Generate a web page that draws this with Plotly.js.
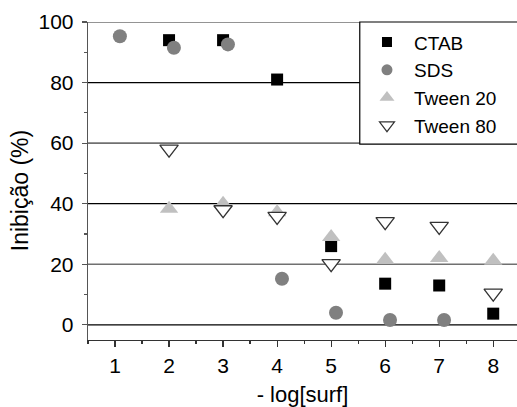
<!DOCTYPE html>
<html>
<head>
<meta charset="utf-8">
<script src="https://cdn.plot.ly/plotly-3.0.1.min.js"></script>
<style>html,body{margin:0;padding:0;background:#fff;}#chart{width:517px;height:407px;}</style>
</head>
<body>
<div id="chart"></div>
<script>
// Data
const ctabX = [2, 3, 4, 5, 6, 7, 8];
const ctabY = [94, 94, 81, 26, 13.6, 13, 3.7];

const sdsX = [1.09, 2.09, 3.09, 4.09, 5.09, 6.09, 7.09];
const sdsY = [95.3, 91.5, 92.6, 15.2, 4, 1.6, 1.6];

const tw20X = [2, 3, 4, 5, 6, 7, 8];
const tw20Y = [38.3, 40, 37.2, 29, 21.5, 22.1, 21.2];

const tw80X = [2, 3, 4, 5, 6, 7, 8];
const tw80Y = [58, 38, 35.8, 20.2, 34.1, 32.5, 10.5];

const seriesNames = ['CTAB', 'SDS', 'Tween 20', 'Tween 80'];
const xTickVals = [1, 2, 3, 4, 5, 6, 7, 8];
const yTickVals = [0, 20, 40, 60, 80, 100];
const blackGrid = [0, 40, 80];
const greyGrid = [20, 60, 100];
const xTitle = '- log[surf]';
const yTitle = 'Inibição (%)';

const FONT = 'Arial, "Liberation Sans", sans-serif';

const styles = [
  {symbol: 'square', size: 12, color: '#000000'},
  {symbol: 'circle', size: 14, color: '#808080'},
  {symbol: 'triangle-up', size: 16, color: '#c0c0c0'},
  {symbol: 'triangle-down', size: 16, color: '#ffffff', line: {color: '#333333', width: 1.3}}
];
const legendStyles = [
  {symbol: 'square', size: 10, color: '#000000'},
  {symbol: 'circle', size: 11, color: '#808080'},
  {symbol: 'triangle-up', size: 13, color: '#c0c0c0'},
  {symbol: 'triangle-down', size: 13, color: '#ffffff', line: {color: '#333333', width: 1.2}}
];

const xs = [ctabX, sdsX, tw20X, tw80X];
const ys = [ctabY, sdsY, tw20Y, tw80Y];

const traces = [];
for (let i = 0; i < 4; i++) {
  traces.push({x: xs[i], y: ys[i], name: seriesNames[i], type: 'scatter', mode: 'markers',
    marker: styles[i], showlegend: false});
}
// legend-only entries (smaller symbols as in the reference legend)
for (let i = 0; i < 4; i++) {
  traces.push({x: [null], y: [null], name: seriesNames[i], type: 'scatter', mode: 'markers',
    marker: legendStyles[i], showlegend: true, hoverinfo: 'skip'});
}

const shapes = [];
blackGrid.forEach(v => shapes.push({type: 'line', xref: 'paper', yref: 'y', x0: 0, x1: 1, y0: v, y1: v,
  line: {color: '#000000', width: 1.2}, layer: 'below'}));
greyGrid.forEach(v => shapes.push({type: 'line', xref: 'paper', yref: 'y', x0: 0, x1: 1, y0: v, y1: v,
  line: {color: '#707070', width: 1.6}, layer: 'below'}));
// legend frame
shapes.push({type: 'rect', xref: 'paper', yref: 'paper', x0: 0.6335, x1: 1.05, y0: 0.616, y1: 1.0,
  line: {color: '#000000', width: 1.2}, fillcolor: '#ffffff', layer: 'above'});

const layout = {
  width: 517, height: 407,
  margin: {l: 88, r: 0, t: 22, b: 67, pad: 0},
  paper_bgcolor: '#ffffff', plot_bgcolor: '#ffffff',
  font: {family: FONT, color: '#000000', size: 21},
  showlegend: true,
  legend: {
    x: 0.634, y: 0.996, xanchor: 'left', yanchor: 'top',
    bgcolor: 'rgba(0,0,0,0)', borderwidth: 0,
    font: {family: FONT, size: 19, color: '#000000'},
    tracegroupgap: 0, itemwidth: 44
  },
  xaxis: {
    range: [0.5, 8.44], tickvals: xTickVals, ticktext: xTickVals.map(String),
    ticks: 'outside', ticklen: 6, tickwidth: 1.2, tickcolor: '#333333',
    showline: true, linecolor: '#333333', linewidth: 1.3,
    showgrid: false, zeroline: false,
    tickfont: {family: FONT, size: 21, color: '#000000'},
    minor: {dtick: 0.5, tick0: 0.5, ticks: 'outside', ticklen: 3, tickwidth: 1.2, tickcolor: '#333333', showgrid: false},
    title: {text: xTitle, font: {family: FONT, size: 22, color: '#000000'}, standoff: 20}
  },
  yaxis: {
    range: [-5, 100], tickvals: yTickVals, ticktext: yTickVals.map(String),
    ticks: 'outside', ticklen: 5, tickwidth: 1.2, tickcolor: '#555555',
    showline: true, linecolor: '#555555', linewidth: 1.3,
    showgrid: false, zeroline: false, ticklabelstandoff: 4,
    tickfont: {family: FONT, size: 21, color: '#000000'},
    minor: {dtick: 10, tick0: 0, ticks: 'outside', ticklen: 3, tickwidth: 1.2, tickcolor: '#555555', showgrid: false}
  },
  annotations: [{
    text: yTitle, textangle: -90, showarrow: false,
    xref: 'paper', yref: 'paper', x: -0.16, y: 0.469, xanchor: 'center', yanchor: 'middle',
    font: {family: FONT, size: 23, color: '#000000'}
  }],
  shapes: shapes
};

Plotly.newPlot('chart', traces, layout, {staticPlot: true, displayModeBar: false});
</script>
</body>
</html>
